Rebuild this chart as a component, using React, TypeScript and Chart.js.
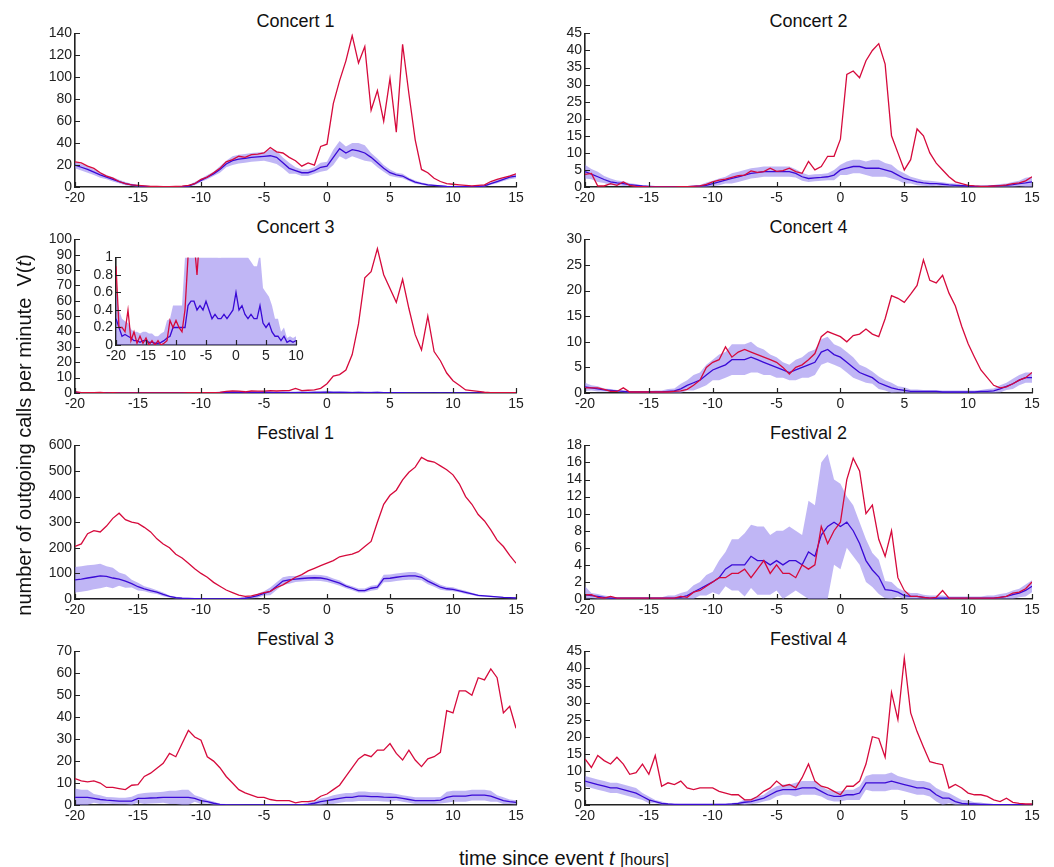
import React, { useEffect, useRef } from "react";
import { Chart, registerables } from "chart.js";

Chart.register(...registerables);

const FONT = '"Liberation Sans", Arial, Helvetica, sans-serif';
const RED = "#d60a3c";
const BLUE = "#3a0ad6";
const BAND = "rgba(140, 122, 236, 0.55)";
const AXIS = "#222";

// time grid (hours since event), half-hour steps
const HOURS = Array.from({ length: 71 }, (_, i) => -20 + i * 0.5);
const X_TICKS = [-20, -15, -10, -5, 0, 5, 10, 15];
const INSET_X_TICKS = [-20, -15, -10, -5, 0, 5, 10];

// ---------- Concert 1 ----------
const C1_RED = [23, 22, 19, 17, 13, 10, 8, 5, 3, 2, 1.5, 1, 0.5, 0.5, 0.3, 0.3, 0.5, 0.8, 1.5, 3, 7, 9, 13, 17, 23, 25, 28, 27, 29.5, 30, 31, 36, 32, 31, 27, 24, 19, 22, 20, 37, 39, 76, 97, 115, 138, 113, 128, 70, 88, 60, 99, 50, 130, 85, 43, 16, 13, 8, 5, 3, 2.5, 2, 1.5, 1, 1.5, 2, 5, 7, 8.5, 10, 12];
const C1_BLUE = [20, 18, 16, 13.5, 11, 9, 7, 5, 3, 2, 1, 0.6, 0.3, 0.2, 0.2, 0.2, 0.2, 0.4, 0.8, 3, 6, 9, 12, 16, 21, 24, 25.5, 26, 27, 27.5, 28, 28.5, 27, 22, 17, 15, 13, 13, 15, 18, 19, 27, 35, 31, 34, 33, 31, 27, 22, 17, 13, 11, 10, 7, 4.5, 3, 2, 1.5, 1, 0.5, 0.3, 0.3, 0.3, 0.3, 0.3, 1, 3, 5, 7, 9, 10];
const C1_SPREAD = [3, 3, 2.5, 2, 1.5, 1, 0.5, 0.3, 0.3, 0.5, 1.5, 2, 3, 4, 4, 4, 6, 5, 3, 3, 4, 7, 6, 7, 4, 3, 2, 1.5, 1, 0.5, 0.5, 0.3, 0.5, 1, 1.5, 2];
const C1_YTICKS = [0, 20, 40, 60, 80, 100, 120, 140];

// ---------- Concert 2 ----------
const C2_RED = [3.7, 4, 0.3, 0.3, 1, 0.5, 1.5, 0.5, 0.2, 0.1, 0, 0, 0, 0, 0, 0.1, 0.1, 0.2, 0.3, 0.8, 1.5, 2, 2.3, 2.8, 3.3, 3.5, 4.7, 4.3, 4.5, 5.5, 4.6, 4.8, 5.5, 4.5, 4, 7.5, 5, 6, 9, 9, 14, 33, 34, 32, 37, 40, 42, 36, 15, 10, 5, 8, 17, 15, 10, 7, 5, 3, 1.5, 1, 0.5, 0.3, 0.2, 0.2, 0.3, 0.4, 0.6, 1, 1.2, 1.8, 3];
const C2_BLUE = [4.5, 3.8, 3, 2.2, 1.5, 1.2, 1, 0.7, 0.5, 0.3, 0.2, 0.1, 0.1, 0.1, 0.1, 0.1, 0.1, 0.2, 0.3, 0.5, 1, 1.5, 2, 2.5, 3, 3.5, 4, 4.2, 4.5, 4.5, 4.5, 4.5, 4.5, 4, 3, 2.5, 2.7, 2.8, 3, 3.5, 5, 5.5, 6, 6, 5.5, 5.5, 5.5, 5, 4.5, 3.5, 2.5, 2, 1.5, 1.2, 1, 1, 0.8, 0.6, 0.5, 0.4, 0.3, 0.2, 0.2, 0.2, 0.3, 0.4, 0.5, 0.7, 1, 1.2, 1.5];
const C2_SPREAD = [2, 1.5, 1, 0.7, 0.4, 0.2, 0.1, 0.1, 0.1, 0.3, 0.8, 1, 1.5, 1.5, 1.5, 1.5, 1.5, 1.2, 1, 1, 1.5, 2, 2, 2.5, 2, 1.5, 1, 0.8, 0.6, 0.5, 0.3, 0.2, 0.3, 0.5, 0.8, 1.5];
const C2_YTICKS = [0, 5, 10, 15, 20, 25, 30, 35, 40, 45];

// ---------- Concert 3 ----------
const C3_RED = [0.9, 0.2, 0.2, 0.15, 0.4, 0.05, 0.15, 0.02, 0.1, 0.02, 0.08, 0, 0.05, 0, 0.05, 0, 0.02, 0.05, 0.28, 0.2, 0.28, 0.2, 0.15, 0.4, 1.0, 1.3, 1.2, 0.8, 1.3, 1.2, 1.2, 1.5, 1.3, 1.5, 1.5, 3, 1.5, 1.8, 2, 3, 6, 11, 12, 15, 25, 45, 75, 79, 94, 77, 68, 59, 74, 55, 38, 28, 50, 27, 21, 13, 8, 5, 2, 1.5, 1, 0.5, 0.2, 0.2, 0.2, 0.2, 0.2];
const C3_BLUE = [0.3, 0.2, 0.1, 0.12, 0.1, 0.08, 0.05, 0.05, 0.03, 0.05, 0.05, 0.03, 0.03, 0.02, 0.02, 0.03, 0.05, 0.08, 0.1, 0.2, 0.2, 0.2, 0.2, 0.2, 0.45, 0.5, 0.5, 0.4, 0.45, 0.4, 0.5, 0.4, 0.3, 0.35, 0.3, 0.3, 0.35, 0.3, 0.35, 0.4, 0.6, 0.4, 0.45, 0.35, 0.3, 0.35, 0.3, 0.3, 0.45, 0.25, 0.2, 0.25, 0.15, 0.1, 0.1, 0.05, 0.1, 0.03, 0.05, 0.03, 0.05, 0.05, 0.05, 0.05, 0.05, 0.05, 0.05, 0.05, 0.05, 0.05, 0.05];
const C3_SPREAD = [0.3, 0.2, 0.15, 0.1, 0.1, 0.1, 0.1, 0.08, 0.1, 0.2, 0.25, 0.25, 0.8, 0.7, 0.8, 0.8, 0.7, 0.7, 0.7, 0.8, 0.9, 0.8, 0.7, 0.6, 0.6, 0.4, 0.3, 0.2, 0.1, 0.05, 0.05, 0.05, 0.05, 0.05, 0.05, 0.05];
const C3_YTICKS = [0, 10, 20, 30, 40, 50, 60, 70, 80, 90, 100];
const C3_INSET_YTICKS = [0, 0.2, 0.4, 0.6, 0.8, 1];

// ---------- Concert 4 ----------
const C4_RED = [1, 1, 1, 0.7, 0.3, 0.3, 1, 0.2, 0.2, 0.2, 0.2, 0.2, 0.2, 0.2, 0.3, 0.4, 0.7, 1.5, 2.5, 5, 6, 6.5, 9, 7, 8, 8.5, 8, 7.5, 7, 6.5, 6, 5, 3.7, 5, 5.5, 6.5, 7.7, 11, 12, 11.5, 11, 10, 11.2, 11.5, 12.5, 11.5, 11, 14.5, 19, 18.5, 17.7, 19.3, 21, 26, 22, 21.5, 23, 19.5, 17, 13, 9.6, 7, 4.5, 3, 1.5, 1, 1.2, 1.8, 2.5, 3, 4];
const C4_BLUE = [1.2, 1, 0.8, 0.6, 0.5, 0.4, 0.3, 0.2, 0.2, 0.2, 0.2, 0.2, 0.2, 0.3, 0.4, 0.8, 1.5, 2, 2.5, 3.5, 4.5, 5, 5.5, 6.5, 6.5, 6.5, 7, 6.5, 6, 5.5, 5, 4.5, 4, 4.5, 5, 5.5, 6, 8, 8.5, 7.5, 7, 6, 5, 4, 3.5, 3, 2, 1.5, 1, 0.7, 0.5, 0.3, 0.3, 0.3, 0.3, 0.3, 0.2, 0.2, 0.2, 0.2, 0.2, 0.2, 0.3, 0.3, 0.4, 0.8, 1.3, 1.8, 2.5, 3, 3];
const C4_SPREAD = [0.8, 0.5, 0.3, 0.2, 0.2, 0.2, 0.3, 0.5, 1, 1.5, 2, 2.5, 3, 3, 2.5, 2, 1.5, 2, 2.5, 2.5, 2, 2, 1.5, 1.2, 1, 0.6, 0.4, 0.3, 0.3, 0.3, 0.3, 0.3, 0.5, 0.7, 1, 1];
const C4_YTICKS = [0, 5, 10, 15, 20, 25, 30];

// ---------- Festival 1 ----------
const F1_RED = [205, 215, 255, 267, 262, 285, 315, 335, 310, 300, 295, 280, 262, 235, 215, 200, 175, 160, 140, 118, 100, 85, 65, 50, 35, 25, 15, 10, 12, 18, 25, 30, 45, 55, 70, 85, 95, 110, 120, 130, 140, 150, 165, 170, 175, 185, 205, 225, 300, 370, 405, 425, 465, 495, 515, 553, 540, 535, 520, 505, 485, 450, 400, 370, 330, 305, 270, 230, 205, 170, 140];
const F1_BLUE = [75, 78, 82, 86, 90, 88, 82, 78, 70, 60, 48, 40, 33, 27, 18, 10, 5, 3, 2, 1.5, 1, 0.5, 0.5, 0.5, 0.5, 0.5, 1, 3, 7, 13, 22, 30, 50, 70, 75, 78, 80, 82, 83, 82, 78, 70, 62, 50, 42, 33, 33, 42, 46, 80, 81, 85, 88, 90, 90, 85, 70, 58, 46, 40, 38, 32, 26, 20, 14, 12, 10, 8, 6, 5, 4];
const F1_SPREAD = [50, 50, 48, 40, 26, 15, 10, 7, 4, 2, 1, 1, 1, 2, 5, 8, 15, 15, 12, 12, 12, 10, 8, 8, 10, 15, 15, 15, 12, 10, 8, 6, 4, 3, 2, 2];
const F1_YTICKS = [0, 100, 200, 300, 400, 500, 600];

// ---------- Festival 2 ----------
const F2_RED = [0.5, 0.5, 0.2, 0.1, 0.3, 0.1, 0.1, 0.1, 0.1, 0.1, 0.1, 0.1, 0.1, 0.1, 0.1, 0.3, 0.2, 0.8, 1, 1.5, 2, 2.5, 2.5, 3, 3, 3.5, 2.5, 3.5, 4.5, 3, 4, 3, 3, 2.5, 4, 3.5, 4, 8.5, 6.5, 8, 9, 14, 16.5, 15, 10, 11, 7, 5, 8, 2.5, 1, 0.3, 0.3, 0.2, 0.1, 0.2, 1, 0.1, 0.1, 0.1, 0.1, 0.1, 0.1, 0.1, 0.1, 0.2, 0.3, 0.7, 0.8, 1.2, 2];
const F2_BLUE = [0.5, 0.4, 0.3, 0.2, 0.1, 0.1, 0.1, 0.1, 0.1, 0.1, 0.1, 0.1, 0.1, 0.1, 0.1, 0.2, 0.4, 0.8, 1.2, 1.6, 2, 2.5, 3.5, 4, 4, 4, 5, 4.5, 4.5, 4, 4.5, 4, 4.5, 4.5, 4, 5.5, 5, 7.5, 8.5, 9, 8.5, 9, 8, 6.5, 4.5, 3.4, 2.6, 1.1, 1, 0.8, 0.4, 0.3, 0.3, 0.2, 0.1, 0.1, 0.1, 0.1, 0.1, 0.1, 0.1, 0.1, 0.1, 0.1, 0.1, 0.2, 0.3, 0.5, 0.7, 1, 1.5];
const F2_SPREAD = [1, 0.3, 0.2, 0.1, 0.1, 0.1, 0.1, 0.3, 0.5, 0.8, 1.2, 2, 3, 3.7, 4, 3.5, 4, 3.5, 6, 8.5, 5, 3, 2.5, 2, 1, 0.5, 0.4, 0.3, 0.3, 0.2, 0.2, 0.2, 0.3, 0.4, 0.5, 0.7];
const F2_YTICKS = [0, 2, 4, 6, 8, 10, 12, 14, 16, 18];

// ---------- Festival 3 ----------
const F3_RED = [12, 11, 10.5, 11, 10, 8, 8, 7.5, 7, 9, 9.3, 13, 14.5, 16.8, 19, 23.5, 22, 28, 34, 31, 29.5, 22, 20, 17, 13, 10, 7, 5.5, 4.5, 3.5, 3.5, 2.5, 2, 2, 2, 1, 1.5, 1.5, 2, 4, 5, 7, 9, 13, 17, 21, 23, 22, 25, 25, 28, 23.5, 20.5, 25, 20.5, 17.5, 21, 22, 24, 43, 42, 52, 52, 50, 58, 57, 62, 58, 42, 45, 35];
const F3_BLUE = [3.5, 3.5, 3.5, 3, 2.5, 2.2, 2, 1.8, 1.8, 1.8, 3, 3, 3.2, 3.3, 3.5, 3.5, 3.5, 3.5, 3.5, 3, 2, 1.5, 0.8, 0.3, 0.1, 0.1, 0.1, 0.1, 0.1, 0.1, 0.1, 0.1, 0.1, 0.1, 0.1, 0.1, 0.1, 0.3, 0.8, 1.5, 2, 2.5, 3, 3.5, 3.5, 4, 4, 3.8, 3.8, 3.6, 3.5, 3.5, 3, 2.5, 2, 2, 2, 2, 2.2, 3.5, 4, 4, 4, 4.5, 4.5, 4.5, 4, 3, 2, 1.5, 1.2];
const F3_SPREAD = [4, 3.5, 2, 1.5, 1.5, 2, 2.5, 2.5, 3, 3.5, 1.5, 0.8, 0.3, 0.2, 0.1, 0.1, 0.1, 0.1, 0.2, 0.8, 1.5, 2, 2, 2.2, 2, 2, 1.5, 1.5, 1.5, 1.5, 2.5, 2.5, 2.5, 2.5, 1.5, 1];
const F3_YTICKS = [0, 10, 20, 30, 40, 50, 60, 70];

// ---------- Festival 4 ----------
const F4_RED = [13.5, 11, 14.5, 13, 12, 14, 12, 9, 9.5, 12, 9, 14.5, 5.5, 6.5, 6, 7, 5, 4.5, 5, 5, 5, 4, 3.5, 3, 3, 1.5, 1.5, 2.5, 4, 5, 7, 5.5, 6, 5, 8, 12, 7, 5.5, 5, 4, 3, 5.5, 5.5, 7, 12, 20, 19.5, 14, 33, 25, 43, 27, 21.5, 17, 12.7, 12.2, 11.8, 5, 6, 5, 3.5, 3, 3, 2.5, 1.5, 1, 2, 0.8, 0.5, 0.3, 0.3];
const F4_BLUE = [7, 6.5, 6, 5.5, 5, 5, 4.5, 4, 3.5, 2.5, 1.5, 1, 0.5, 0.3, 0.2, 0.2, 0.2, 0.2, 0.2, 0.2, 0.2, 0.2, 0.2, 0.3, 0.5, 0.8, 1, 1.5, 2, 3, 4, 4.5, 4.5, 4.5, 5, 5, 5, 4, 3, 2.5, 2.5, 3, 3, 3.5, 6.5, 6.5, 6.5, 6.5, 7, 6.5, 6, 5.5, 5, 5, 4.5, 3, 2, 2, 1, 0.5, 0.3, 0.3, 0.2, 0.2, 0.1, 0.1, 0.1, 0.1, 0.1, 0.1, 0.1];
const F4_SPREAD = [1.5, 1.5, 1.5, 1.5, 1.5, 1, 0.5, 0.2, 0.1, 0.1, 0.1, 0.2, 0.3, 0.8, 1, 1.5, 1.5, 2, 2, 1.5, 1.5, 1.5, 2, 2.5, 2.5, 2, 2, 2, 2, 1.5, 1, 0.5, 0.2, 0.1, 0.1, 0.1];
const F4_YTICKS = [0, 5, 10, 15, 20, 25, 30, 35, 40, 45];

const inwardTicks = {
  id: "inwardTicks",
  afterDraw(chart: any) {
    const { ctx, chartArea, scales } = chart;
    const xs = scales.x;
    const ys = scales.y;
    ctx.save();
    ctx.strokeStyle = AXIS;
    ctx.lineWidth = 1.2;
    ctx.beginPath();
    xs.ticks.forEach((t: any) => {
      const px = Math.round(xs.getPixelForValue(t.value)) + 0.5;
      ctx.moveTo(px, chartArea.bottom);
      ctx.lineTo(px, chartArea.bottom - 5);
    });
    ys.ticks.forEach((t: any) => {
      const py = Math.round(ys.getPixelForValue(t.value)) + 0.5;
      ctx.moveTo(chartArea.left, py);
      ctx.lineTo(chartArea.left + 5, py);
    });
    ctx.stroke();
    ctx.restore();
  },
};

type PanelProps = {
  red: number[];
  blue: number[];
  spread: number[];
  yTicks: number[];
  xTicks: number[];
  xMax: number;
  left: number;
  top: number;
  width: number;
  height: number;
  yw: number;
  padRight: number;
  xh: number;
};

const PAD_TOP = 10;

function Panel(p: PanelProps) {
  const ref = useRef<HTMLCanvasElement>(null);
  const cw = p.yw + p.width + p.padRight;
  const chh = PAD_TOP + p.height + p.xh;
  useEffect(() => {
    const redPts = HOURS.map((t, i) => ({ x: t, y: p.red[i] }));
    const bluePts = HOURS.map((t, i) => ({ x: t, y: p.blue[i] }));
    const upper = HOURS.map((t, i) => ({ x: t, y: p.blue[i] + p.spread[Math.round(i / 2)] }));
    const lower = HOURS.map((t, i) => ({ x: t, y: Math.max(0, p.blue[i] - p.spread[Math.round(i / 2)]) }));
    const tickFont = { size: 14, family: FONT };
    const chart = new Chart(ref.current as HTMLCanvasElement, {
      type: "line",
      data: {
        datasets: [
          { data: redPts, borderColor: RED, borderWidth: 1.3, pointRadius: 0, fill: false, order: 0, tension: 0 },
          { data: bluePts, borderColor: BLUE, borderWidth: 1.3, pointRadius: 0, fill: false, order: 1, tension: 0 },
          { data: upper, borderColor: "rgba(0,0,0,0)", borderWidth: 0, backgroundColor: BAND, pointRadius: 0, fill: "+1", order: 2 },
          { data: lower, borderColor: "rgba(0,0,0,0)", borderWidth: 0, pointRadius: 0, fill: false, order: 3 },
        ],
      } as any,
      options: {
        responsive: false,
        maintainAspectRatio: false,
        animation: false,
        events: [],
        layout: { padding: { top: PAD_TOP, right: p.padRight, left: 0, bottom: 0 } },
        plugins: { legend: { display: false }, tooltip: { enabled: false }, title: { display: false } },
        scales: {
          x: {
            type: "linear",
            min: -20,
            max: p.xMax,
            afterFit: (s: any) => { s.height = p.xh; },
            afterBuildTicks: (s: any) => { s.ticks = p.xTicks.map((v) => ({ value: v })); },
            grid: { display: false, drawTicks: false },
            border: { display: true, color: AXIS, width: 1.6 },
            ticks: { padding: 3, color: AXIS, font: tickFont, maxRotation: 0, autoSkip: false, callback: (v: any) => String(v) },
          },
          y: {
            type: "linear",
            min: 0,
            max: p.yTicks[p.yTicks.length - 1],
            afterFit: (s: any) => { s.width = p.yw; },
            afterBuildTicks: (s: any) => { s.ticks = p.yTicks.map((v) => ({ value: v })); },
            grid: { display: false, drawTicks: false },
            border: { display: true, color: AXIS, width: 1.6 },
            ticks: { padding: 3, color: AXIS, font: tickFont, autoSkip: false, callback: (v: any) => String(v) },
          },
        },
      } as any,
      plugins: [inwardTicks],
    });
    return () => chart.destroy();
  }, []);
  return (
    <canvas
      ref={ref}
      width={cw}
      height={chh}
      style={{ position: "absolute", left: p.left - p.yw, top: p.top - PAD_TOP, width: cw, height: chh }}
    />
  );
}

const LEFT_COL = { left: 75, width: 441 };
const RIGHT_COL = { left: 585, width: 447 };
const ROW_TOPS = [32, 238, 444, 650];
const PLOT_H = 155;

const PANELS = [
  { title: "Concert 1", col: LEFT_COL, row: 0, red: C1_RED, blue: C1_BLUE, spread: C1_SPREAD, yTicks: C1_YTICKS },
  { title: "Concert 2", col: RIGHT_COL, row: 0, red: C2_RED, blue: C2_BLUE, spread: C2_SPREAD, yTicks: C2_YTICKS },
  { title: "Concert 3", col: LEFT_COL, row: 1, red: C3_RED, blue: C3_BLUE, spread: C3_SPREAD, yTicks: C3_YTICKS },
  { title: "Concert 4", col: RIGHT_COL, row: 1, red: C4_RED, blue: C4_BLUE, spread: C4_SPREAD, yTicks: C4_YTICKS },
  { title: "Festival 1", col: LEFT_COL, row: 2, red: F1_RED, blue: F1_BLUE, spread: F1_SPREAD, yTicks: F1_YTICKS },
  { title: "Festival 2", col: RIGHT_COL, row: 2, red: F2_RED, blue: F2_BLUE, spread: F2_SPREAD, yTicks: F2_YTICKS },
  { title: "Festival 3", col: LEFT_COL, row: 3, red: F3_RED, blue: F3_BLUE, spread: F3_SPREAD, yTicks: F3_YTICKS },
  { title: "Festival 4", col: RIGHT_COL, row: 3, red: F4_RED, blue: F4_BLUE, spread: F4_SPREAD, yTicks: F4_YTICKS },
];

export default function App() {
  return (
    <div style={{ position: "absolute", left: 0, top: 0, width: 1054, height: 867, background: "#fff", fontFamily: FONT, color: "#111" }}>
      {PANELS.map((pn) => (
        <React.Fragment key={pn.title}>
          <div
            style={{
              position: "absolute",
              left: pn.col.left + pn.col.width / 2 - 100,
              width: 200,
              top: ROW_TOPS[pn.row] - 22,
              height: 22,
              lineHeight: "22px",
              textAlign: "center",
              fontSize: 18,
            }}
          >
            {pn.title}
          </div>
          <Panel
            red={pn.red}
            blue={pn.blue}
            spread={pn.spread}
            yTicks={pn.yTicks}
            xTicks={X_TICKS}
            xMax={15}
            left={pn.col.left}
            top={ROW_TOPS[pn.row]}
            width={pn.col.width}
            height={PLOT_H}
            yw={45}
            padRight={14}
            xh={25}
          />
        </React.Fragment>
      ))}
      <Panel
        red={C3_RED}
        blue={C3_BLUE}
        spread={C3_SPREAD}
        yTicks={C3_INSET_YTICKS}
        xTicks={INSET_X_TICKS}
        xMax={10}
        left={116}
        top={256}
        width={180}
        height={89}
        yw={35}
        padRight={12}
        xh={22}
      />
      <div
        style={{
          position: "absolute",
          left: 24 - 250,
          top: 435 - 13,
          width: 500,
          height: 26,
          lineHeight: "26px",
          textAlign: "center",
          fontSize: 20,
          transform: "rotate(-90deg)",
          whiteSpace: "nowrap",
        }}
      >
        number of outgoing calls per minute{"\u00a0 "}V(<i>t</i>)
      </div>
      <div
        style={{
          position: "absolute",
          left: 364,
          width: 400,
          top: 845,
          height: 26,
          lineHeight: "26px",
          textAlign: "center",
          fontSize: 20,
          whiteSpace: "nowrap",
        }}
      >
        time since event <i>t</i> <span style={{ fontSize: 16 }}>[hours]</span>
      </div>
    </div>
  );
}
